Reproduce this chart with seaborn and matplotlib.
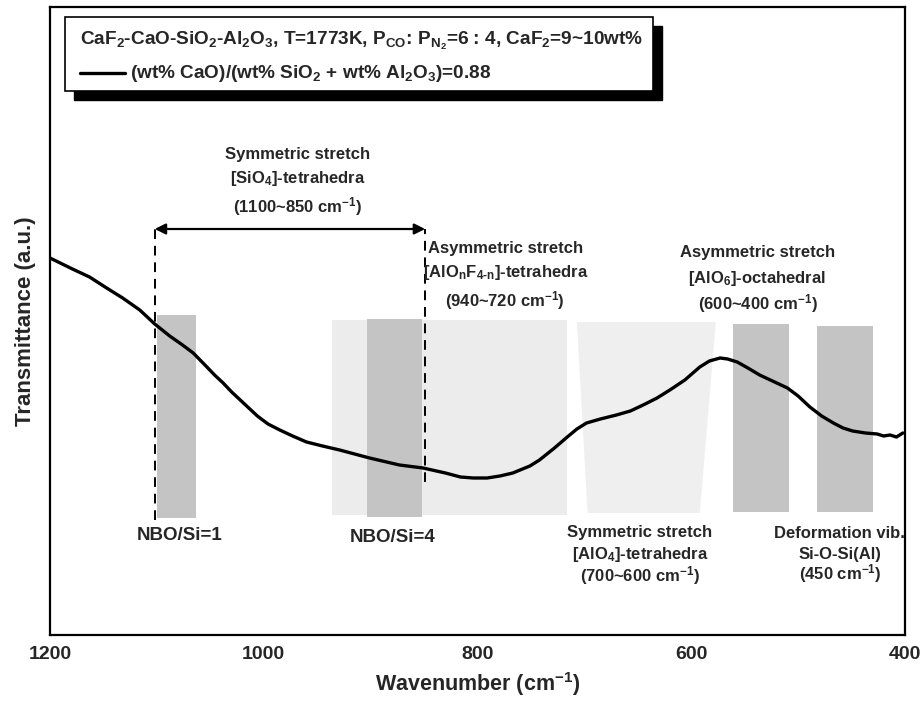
import numpy as np
import pandas as pd
import seaborn as sns
import matplotlib
matplotlib.use("Agg")
import matplotlib.pyplot as plt
from matplotlib.patches import Rectangle, Polygon
from matplotlib.ticker import MultipleLocator

# ---------------- data ----------------
wavenumber = [1200, 1179, 1163, 1147, 1132, 1116, 1102, 1088, 1076, 1066, 1055,
              1046, 1038, 1030, 1022, 1013, 1006, 996, 985, 973, 960, 945, 929,
              915, 901, 873, 851, 830, 816, 804, 791, 779, 767, 751, 742, 728,
              716, 707, 698, 685, 670, 657, 645, 632, 620, 606, 592, 583, 573,
              566, 557, 547, 536, 524, 510, 500, 489, 478, 467, 458, 449, 437,
              426, 420, 414, 408, 402]
transmittance = [377, 366, 358, 347, 337, 325, 311, 299, 290, 282, 270,
                 260, 252, 243, 235, 226, 219, 211, 205, 199, 193, 189, 185,
                 181, 177, 170, 167, 162, 158, 157, 157, 159, 162, 169, 175, 187,
                 198, 206, 212, 216, 220, 224, 230, 237, 245, 255, 268, 274, 277,
                 276, 273, 267, 260, 254, 247, 239, 228, 219, 212, 207, 204, 202,
                 201, 199, 200, 198, 202]

# shaded bands (wavenumber range, transmittance range, colour)
band_left = [936, 903, 1100, 561, 482]
band_right = [716, 852, 1063, 509, 430]
band_bottom = [120, 118, 117, 123, 123]
band_top = [315, 316, 320, 311, 309]
band_color = ["#ececec", "#c4c4c4", "#c4c4c4", "#c4c4c4", "#c4c4c4"]

# trapezoid for [AlO4] symmetric stretch
trap_top_x = [707, 577]
trap_bottom_x = [697, 592]
trap_y = [122, 313]

# SiO4 range marker
sio4_range = [1102, 849]
arrow_y = 406
dash_bottom = [115, 153]

xticks = [1200, 1000, 800, 600, 400]

legend_title = (r"CaF$_2$-CaO-SiO$_2$-Al$_2$O$_3$, T=1773K, P$_{CO}$: P$_{N_2}$=6 : 4, "
                r"CaF$_2$=9~10wt%")
legend_label = r"(wt% CaO)/(wt% SiO$_2$ + wt% Al$_2$O$_3$)=0.88"

annotations = [
    ("Symmetric stretch", 968, 480),
    (r"[SiO$_4$]-tetrahedra", 968, 457),
    (r"(1100~850 cm$^{-1}$)", 968, 428),
    ("Asymmetric stretch", 774, 386),
    (r"[AlO$_n$F$_{4\text{-}n}$]-tetrahedra", 774, 363),
    (r"(940~720 cm$^{-1}$)", 774, 334),
    ("Asymmetric stretch", 538, 382),
    (r"[AlO$_6$]-octahedral", 538, 357),
    (r"(600~400 cm$^{-1}$)", 538, 331),
    ("Symmetric stretch", 648, 102),
    (r"[AlO$_4$]-tetrahedra", 648, 81),
    (r"(700~600 cm$^{-1}$)", 648, 59),
    ("Deformation vib.", 461, 102),
    ("Si-O-Si(Al)", 461, 81),
    (r"(450 cm$^{-1}$)", 461, 61),
]
nbo_labels = [("NBO/Si=1", 1079, 100), ("NBO/Si=4", 879, 97)]

# ---------------- style ----------------
sns.set_style("white")
plt.rcParams["font.family"] = ["Liberation Sans", "DejaVu Sans"]
plt.rcParams["font.weight"] = "bold"
plt.rcParams["mathtext.fontset"] = "custom"
plt.rcParams["mathtext.rm"] = "Liberation Sans:bold"
plt.rcParams["mathtext.it"] = "Liberation Sans:bold"
plt.rcParams["mathtext.bf"] = "Liberation Sans:bold"
plt.rcParams["mathtext.default"] = "rm"

fig = plt.figure(figsize=(9.22, 7.04), dpi=100)
ax = fig.add_axes([50 / 922, 69 / 704, 855 / 922, 628 / 704])

df = pd.DataFrame({"w": wavenumber, "t": transmittance})

# bands
for l, r, b, t, c in zip(band_left, band_right, band_bottom, band_top, band_color):
    ax.add_patch(Rectangle((l, b), r - l, t - b, facecolor=c, edgecolor="none", zorder=1))
ax.add_patch(Polygon([(trap_bottom_x[0], trap_y[0]), (trap_bottom_x[1], trap_y[0]),
                      (trap_top_x[1], trap_y[1]), (trap_top_x[0], trap_y[1])],
                     closed=True, facecolor="#efefef", edgecolor="none", zorder=1))

sns.lineplot(data=df, x="w", y="t", color="black", lw=2.4, ax=ax, zorder=5,
             estimator=None, sort=False)
for ln in ax.lines:
    ln.set_solid_joinstyle("round")
    ln.set_solid_capstyle("round")

# SiO4 range marker
for xv, yb in zip(sio4_range, dash_bottom):
    ax.plot([xv, xv], [yb, arrow_y], color="black", lw=1.4, ls=(0, (5, 3.5)), zorder=6)
ax.annotate("", xy=(sio4_range[1], arrow_y), xytext=(sio4_range[0], arrow_y),
            arrowprops=dict(arrowstyle="<|-|>", lw=1.6, color="black",
                            mutation_scale=16, shrinkA=0, shrinkB=0), zorder=6)

for txt, xv, yv in annotations:
    ax.text(xv, yv, txt, ha="center", va="center", fontsize=12, fontweight="bold",
            zorder=7)
for txt, xv, yv in nbo_labels:
    ax.text(xv, yv, txt, ha="center", va="center", fontsize=13.5, fontweight="bold",
            zorder=7)

ax.set_xlim(1200, 400)
ax.set_ylim(0, 628)
ax.set_xticks(xticks)
ax.xaxis.set_minor_locator(MultipleLocator(50))
ax.set_yticks([])
ax.tick_params(axis="x", which="major", direction="in", length=9, width=1.5,
               labelsize=14, pad=8)
ax.tick_params(axis="x", which="minor", direction="in", length=5, width=1.5)
for lab in ax.get_xticklabels():
    lab.set_fontweight("bold")
for sp in ax.spines.values():
    sp.set_visible(True)
    sp.set_linewidth(1.6)
    sp.set_color("black")

ax.set_xlabel(r"Wavenumber (cm$^{-1}$)", fontsize=15.5, fontweight="bold", labelpad=5)
ax.set_ylabel("Transmittance (a.u.)", fontsize=16, fontweight="bold", labelpad=10)

# legend box (manual, with black drop shadow)
ax_w, ax_h = 855.0, 628.0
bx0, bx1 = 15 / ax_w, 603 / ax_w
by0, by1 = (635 - 91) / ax_h, (635 - 17) / ax_h
ox, oy = 9 / ax_w, 9 / ax_h
ax.add_patch(Rectangle((bx0 + ox, by0 - oy), bx1 - bx0, by1 - by0, transform=ax.transAxes,
                       facecolor="black", edgecolor="black", zorder=9))
ax.add_patch(Rectangle((bx0, by0), bx1 - bx0, by1 - by0, transform=ax.transAxes,
                       facecolor="white", edgecolor="black", lw=1.2, zorder=10))
ax.text(30 / ax_w, (635 - 41) / ax_h, legend_title, transform=ax.transAxes,
        ha="left", va="center", fontsize=13.7, fontweight="bold", zorder=11)
ax.plot([30 / ax_w, 75 / ax_w], [(635 - 73) / ax_h] * 2, transform=ax.transAxes,
        color="black", lw=2.4, zorder=11)
ax.text(80 / ax_w, (635 - 73) / ax_h, legend_label, transform=ax.transAxes,
        ha="left", va="center", fontsize=13.7, fontweight="bold", zorder=11)

fig.savefig("out.png", dpi=100)
